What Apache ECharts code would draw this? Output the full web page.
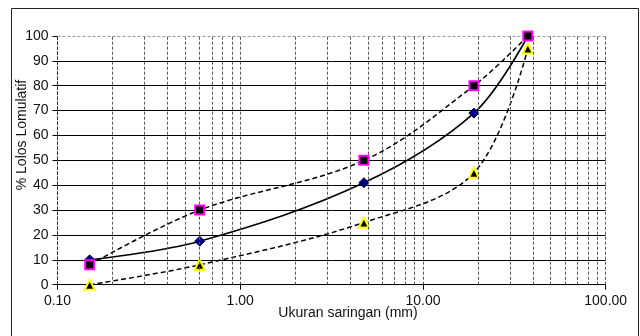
<!DOCTYPE html>
<html><head><meta charset="utf-8">
<script src="https://cdn.jsdelivr.net/npm/echarts@6/dist/echarts.min.js"></script>
<style>html,body{margin:0;padding:0;background:#fff}#c{width:640px;height:336px}</style>
</head><body><div id="c"></div>
<script>
const sieveSizes = [0.15, 0.6, 4.75, 19, 37.5];
const upperLimit = [8, 30, 50, 80, 100];
const gradation = [10, 17.5, 41, 69, 100];
const lowerLimit = [0, 8, 25, 45, 95];
const xTicks = [0.1, 1, 10, 100];
const yTicks = [0, 10, 20, 30, 40, 50, 60, 70, 80, 90, 100];
const minorGrid = [0.2,0.3,0.4,0.5,0.6,0.7,0.8,0.9,1,2,3,4,5,6,7,8,9,10,20,30,40,50,60,70,80,90,100];

const font = 'Liberation Sans, Arial, sans-serif';
const pair = (xs, ys) => xs.map((x, i) => [x, ys[i]]);

const chart = echarts.init(document.getElementById('c'), null, {renderer: 'canvas'});
const splitColors = yTicks.map(v => v === 100 ? 'rgba(0,0,0,0)' : '#000');

chart.setOption({
  animation: false,
  backgroundColor: '#fff',
  grid: {left: 57.5, right: 34.3, top: 36, bottom: 51.3, containLabel: false},
  xAxis: {
    type: 'log', logBase: 10, min: 0.1, max: 100,
    axisLine: {show: true, lineStyle: {color: '#000', width: 1}},
    axisTick: {show: true, inside: false, length: 5, lineStyle: {color: '#000'}},
    axisLabel: {margin: 9, fontFamily: font, fontSize: 14, color: '#111',
      formatter: v => Number(v).toFixed(2)},
    splitLine: {show: false}
  },
  yAxis: {
    type: 'value', min: 0, max: 100, interval: 10,
    axisLine: {show: true, lineStyle: {color: '#333', width: 1, type: [3, 2]}},
    axisTick: {show: true, inside: false, length: 5, lineStyle: {color: '#000'}},
    axisLabel: {margin: 9, fontFamily: font, fontSize: 14, color: '#111'},
    splitLine: {show: true, lineStyle: {color: splitColors, width: 1}}
  },
  graphic: [
    {type: 'rect', shape: {x: 11.5, y: 8.5, width: 627, height: 340}, style: {fill: null, stroke: '#222', lineWidth: 1}, silent: true},
    {type: 'text', x: 22, y: 135, rotation: Math.PI / 2,
     style: {text: '% Lolos Lomulatif', font: '14px ' + font, fill: '#111', align: 'center', verticalAlign: 'middle'}},
    {type: 'text', x: 348, y: 313,
     style: {text: 'Ukuran saringan (mm)', font: '14px ' + font, fill: '#111', align: 'center', verticalAlign: 'middle'}}
  ],
  series: [
    {
      type: 'line', data: [], z: 1, silent: true,
      markLine: {
        silent: true, symbol: 'none', label: {show: false}, animation: false,
        lineStyle: {color: '#555', width: 1, type: [3, 2]},
        data: minorGrid.map(v => ({xAxis: v})).concat([{yAxis: 100, lineStyle: {color: '#999', type: [3, 2]}}])
      }
    },
    {
      name: 'Batas bawah', type: 'line', z: 3, data: pair(sieveSizes, lowerLimit), smooth: 0.35,
      lineStyle: {color: '#000', width: 1.5, type: [5, 3]},
      symbol: 'triangle', symbolSize: 10,
      itemStyle: {color: '#000', borderColor: '#ffff00', borderWidth: 2}
    },
    {
      name: 'Gradasi', type: 'line', z: 4, data: pair(sieveSizes, gradation), smooth: 0.35,
      lineStyle: {color: '#000', width: 1.6},
      symbol: 'diamond', symbolSize: 10,
      itemStyle: {color: '#000080', borderColor: '#000060', borderWidth: 1}
    },
    {
      name: 'Batas atas', type: 'line', z: 5, data: pair(sieveSizes, upperLimit), smooth: 0.35,
      lineStyle: {color: '#000', width: 1.5, type: [5, 3]},
      symbol: 'rect', symbolSize: 9,
      itemStyle: {color: '#000', borderColor: '#ff00ff', borderWidth: 2}
    }
  ]
});
</script></body></html>
